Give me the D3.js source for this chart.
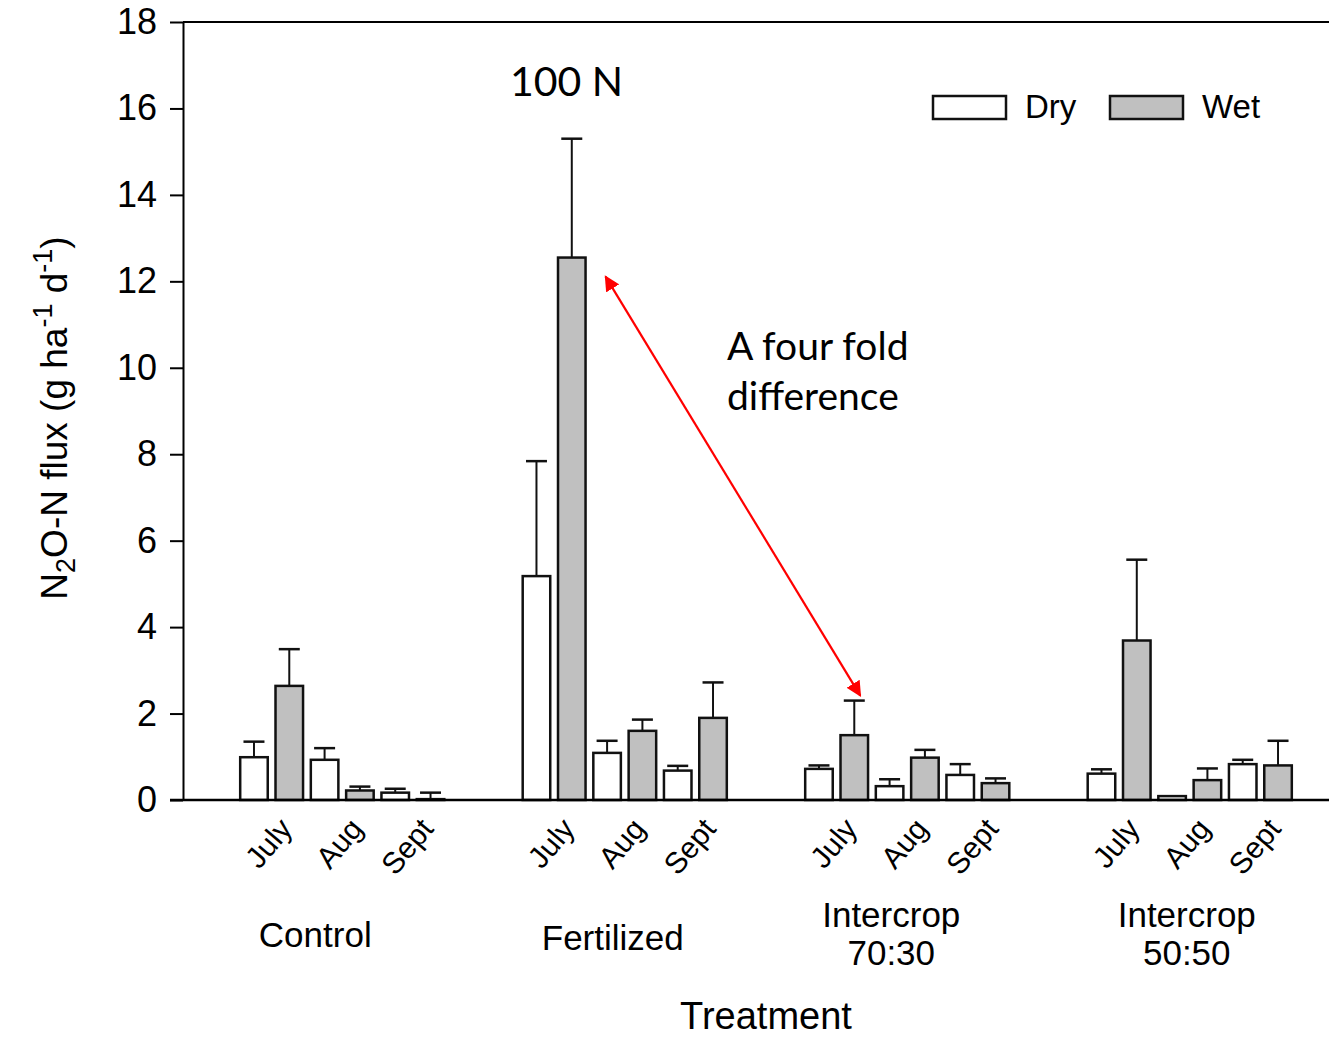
<!DOCTYPE html>
<html>
<head>
<meta charset="utf-8">
<script src="https://cdn.jsdelivr.net/npm/d3@7"></script>
<style>
  body { margin: 0; background: #fff; }
  svg text { font-family: "Liberation Sans", Arial, sans-serif; fill: #000; }
  .note { font-family: Lato, "Open Sans", sans-serif; }
</style>
</head>
<body>
<svg id="chart" width="1329" height="1038"></svg>
<script>
// chart values
const groups = ["Control", "Fertilized", "Intercrop 70:30", "Intercrop 50:50"];
const months = ["July", "Aug", "Sept"];
const conditions = ["Dry", "Wet"];
const dryMean = [[0.99, 0.93, 0.17], [5.18, 1.09, 0.68], [0.72, 0.32, 0.58], [0.61, 0.09, 0.83]];
const drySE   = [[0.36, 0.27, 0.09], [2.66, 0.28, 0.11], [0.08, 0.16, 0.25], [0.10, 0.00, 0.10]];
const wetMean = [[2.64, 0.22, 0.02], [12.55, 1.60, 1.90], [1.50, 0.98, 0.39], [3.69, 0.46, 0.80]];
const wetSE   = [[0.85, 0.09, 0.15], [2.75, 0.26, 0.82], [0.80, 0.18, 0.11], [1.87, 0.27, 0.57]];
const yTicks = [0, 2, 4, 6, 8, 10, 12, 14, 16, 18];

// hand placed group label nudges (as in the original figure)
const labelShift = [-27, -12, -16, -3];

const svg = d3.select("#chart");
const fills = { Dry: "#ffffff", Wet: "#c0c0c0" };

const y = d3.scaleLinear().domain([0, 18]).range([800, 22]);
const xGroup = d3.scaleBand().domain(groups).range([201, 1331])
    .paddingInner(0.25).paddingOuter(0.125);
const slots = [];
months.forEach(m => conditions.forEach(c => slots.push(m + "|" + c)));
const xSlot = d3.scaleBand().domain(slots).range([0, xGroup.bandwidth()])
    .paddingInner(0.22).paddingOuter(0.11);

const bars = [];
groups.forEach((g, gi) => {
    months.forEach((m, mi) => {
        bars.push({ group: g, month: m, cond: "Dry", mean: dryMean[gi][mi], se: drySE[gi][mi] });
        bars.push({ group: g, month: m, cond: "Wet", mean: wetMean[gi][mi], se: wetSE[gi][mi] });
    });
});
const bx = d => xGroup(d.group) + xSlot(d.month + "|" + d.cond);
const bw = xSlot.bandwidth();

// axes frame
const yAxis = svg.append("g")
    .attr("transform", "translate(183,0)")
    .call(d3.axisLeft(y).tickValues(yTicks).tickSize(13).tickPadding(13).tickSizeOuter(0));
yAxis.selectAll("path, line").attr("stroke", "#000").attr("stroke-width", 2);
yAxis.selectAll("text").attr("font-size", 36).attr("font-family", "Liberation Sans, Arial, sans-serif");

svg.append("line")
    .attr("x1", 183).attr("x2", 1329).attr("y1", y(18)).attr("y2", y(18))
    .attr("stroke", "#000").attr("stroke-width", 2);

// error bars
const errG = svg.append("g");
errG.selectAll("line.stem")
    .data(bars.filter(d => d.se > 0))
    .enter()
    .append("line")
    .attr("class", "stem")
    .attr("x1", d => bx(d) + bw / 2).attr("x2", d => bx(d) + bw / 2)
    .attr("y1", d => y(d.mean)).attr("y2", d => y(d.mean + d.se))
    .attr("stroke", "#111").attr("stroke-width", 2);
errG.selectAll("line.cap")
    .data(bars.filter(d => d.se > 0))
    .enter()
    .append("line")
    .attr("class", "cap")
    .attr("x1", d => bx(d) + bw / 2 - 10.5).attr("x2", d => bx(d) + bw / 2 + 10.5)
    .attr("y1", d => y(d.mean + d.se)).attr("y2", d => y(d.mean + d.se))
    .attr("stroke", "#111").attr("stroke-width", 2.5);

// bars
svg.append("g").selectAll("rect")
    .data(bars)
    .enter()
    .append("rect")
    .attr("x", d => bx(d))
    .attr("y", d => y(d.mean))
    .attr("width", bw)
    .attr("height", d => y(0) - y(d.mean))
    .attr("fill", d => fills[d.cond])
    .attr("stroke", "#111")
    .attr("stroke-width", 2.5);

// baseline
svg.append("line")
    .attr("x1", 170).attr("x2", 1329).attr("y1", y(0)).attr("y2", y(0))
    .attr("stroke", "#000").attr("stroke-width", 2.5);

// month labels
const monthLabels = [];
groups.forEach(g => months.forEach(m => monthLabels.push({ group: g, month: m })));
svg.append("g").selectAll("text")
    .data(monthLabels)
    .enter()
    .append("text")
    .attr("transform", d => {
        const cx = xGroup(d.group) + xSlot(d.month + "|Wet") + 2;
        return `translate(${cx},816) rotate(-50)`;
    })
    .attr("text-anchor", "end")
    .attr("dy", "0.7em")
    .attr("font-size", 30)
    .text(d => d.month);

// group labels
const gl = svg.append("g").selectAll("text")
    .data(groups)
    .enter()
    .append("text")
    .attr("text-anchor", "middle")
    .attr("font-size", 35)
    .attr("x", (d, i) => xGroup(d) + xGroup.bandwidth() / 2 + labelShift[i])
    .attr("y", d => d.startsWith("Intercrop") ? 927 : (d === "Control" ? 947 : 950));
gl.each(function (d) {
    const parts = d.split(" ");
    const t = d3.select(this);
    if (parts.length === 1) { t.text(d); return; }
    t.append("tspan").attr("x", t.attr("x")).text(parts[0]);
    t.append("tspan").attr("x", t.attr("x")).attr("dy", 38).text(parts[1]);
});

svg.append("text")
    .attr("x", 766).attr("y", 1029)
    .attr("text-anchor", "middle")
    .attr("font-size", 38)
    .text("Treatment");

// y title
const yt = svg.append("text")
    .attr("transform", "translate(67,418) rotate(-90)")
    .attr("text-anchor", "middle")
    .attr("font-size", 37);
yt.append("tspan").text("N");
yt.append("tspan").attr("font-size", 27).attr("baseline-shift", "-30%").text("2");
yt.append("tspan").text("O-N flux (g ha");
yt.append("tspan").attr("font-size", 27).attr("baseline-shift", "55%").text("-1");
yt.append("tspan").text(" d");
yt.append("tspan").attr("font-size", 27).attr("baseline-shift", "55%").text("-1");
yt.append("tspan").text(")");

// legend
const legend = svg.append("g");
const legX = [933, 1110];
conditions.forEach((c, i) => {
    legend.append("rect")
        .attr("x", legX[i]).attr("y", 96).attr("width", 73).attr("height", 23)
        .attr("fill", fills[c]).attr("stroke", "#111").attr("stroke-width", 2.5);
    legend.append("text")
        .attr("x", legX[i] + 92).attr("y", 118)
        .attr("font-size", 33)
        .text(c);
});

// annotations
svg.append("text").attr("class", "note")
    .attr("x", 510).attr("y", 96)
    .attr("font-size", 41)
    .text("100 N");
svg.append("text").attr("class", "note")
    .attr("x", 727).attr("y", 360)
    .attr("font-size", 39)
    .text("A four fold");
svg.append("text").attr("class", "note")
    .attr("x", 727).attr("y", 410)
    .attr("font-size", 39)
    .text("difference");

const defs = svg.append("defs");
defs.append("marker")
    .attr("id", "arrowHead")
    .attr("viewBox", "0 0 10 10")
    .attr("refX", 9).attr("refY", 5)
    .attr("markerWidth", 7).attr("markerHeight", 7)
    .attr("orient", "auto-start-reverse")
    .append("path")
    .attr("d", "M0,0 L10,5 L0,10 Z")
    .attr("fill", "#ff0000");

const fertWet = bars.find(d => d.group === "Fertilized" && d.month === "July" && d.cond === "Wet");
const icWet = bars.find(d => d.group === "Intercrop 70:30" && d.month === "July" && d.cond === "Wet");
svg.append("line")
    .attr("x1", bx(fertWet) + bw + 20).attr("y1", y(fertWet.mean) + 19)
    .attr("x2", bx(icWet) + bw / 2 + 6).attr("y2", y(icWet.mean + icWet.se) - 5)
    .attr("stroke", "#ff0000").attr("stroke-width", 2.2)
    .attr("marker-start", "url(#arrowHead)")
    .attr("marker-end", "url(#arrowHead)");
</script>
</body>
</html>
